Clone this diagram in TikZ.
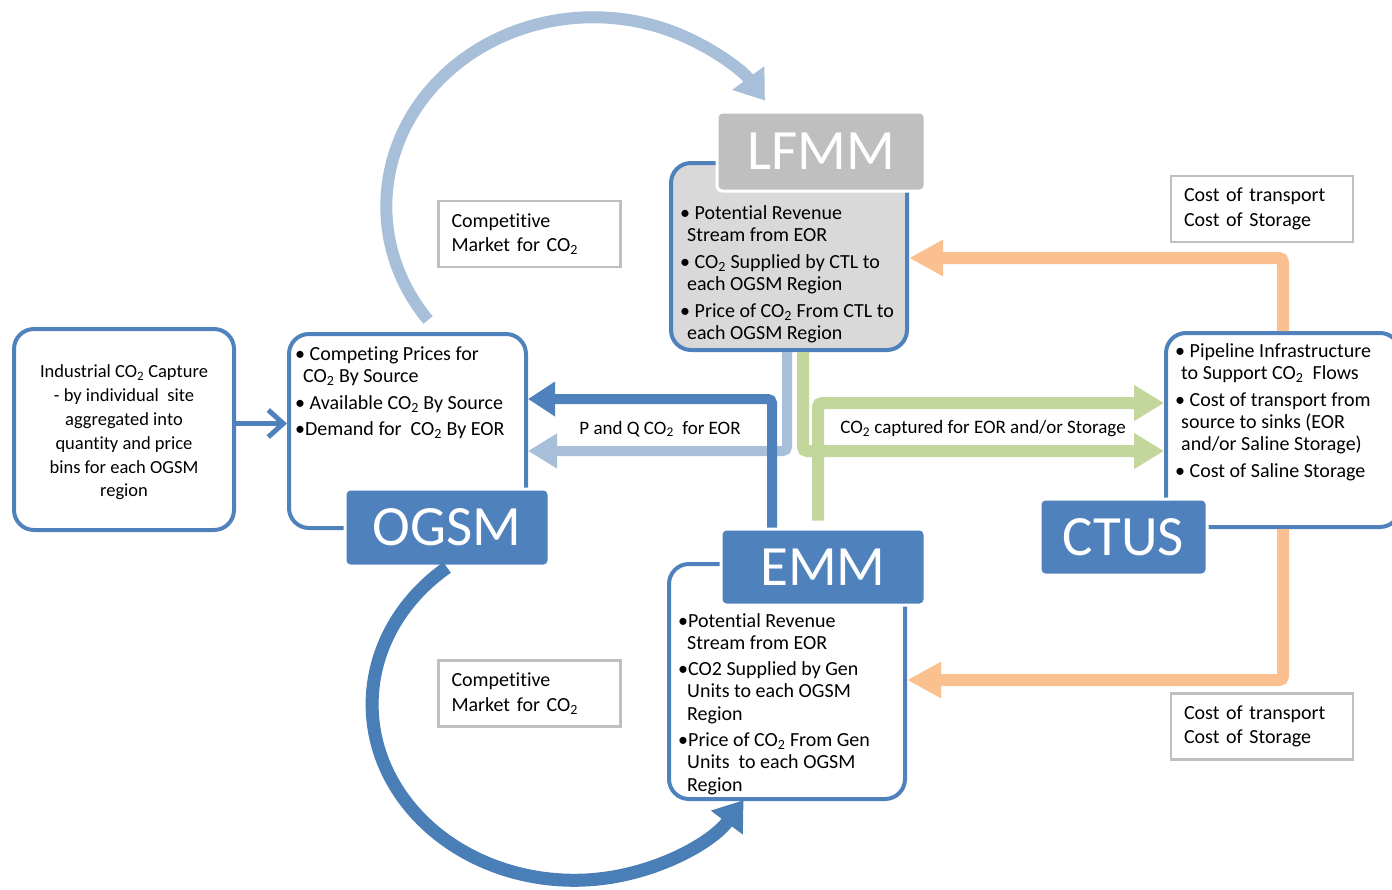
\documentclass[tikz,border=0pt]{standalone}
\usepackage{fontspec}
\setmainfont{Carlito}[Ligatures=NoCommon]
\usetikzlibrary{arrows.meta}
\definecolor{boxblue}{RGB}{79,129,189}
\definecolor{arcblue}{RGB}{74,126,183}
\definecolor{paleblue}{RGB}{167,191,217}
\definecolor{palegreen}{RGB}{195,214,155}
\definecolor{paleorange}{RGB}{250,192,144}
\definecolor{tagsilver}{RGB}{191,191,191}
\definecolor{panelgray}{RGB}{217,217,217}
\newcommand{\cotwo}{CO\textsubscript{2}}

\begin{document}
\begin{tikzpicture}[x=1pt,y=-1pt,
panel/.style={draw=boxblue,line width=4pt,rounded corners=20pt,inner sep=0pt},
tag/.style={fill=boxblue,draw=white,line width=3pt,rounded corners=5pt,inner sep=0pt,text=white,font=\fontsize{57}{60}\selectfont},
note/.style={draw=tagsilver,line width=2.5pt,inner xsep=13pt,inner ysep=0pt,text width=156pt,minimum height=66pt,align=left,font=\fontsize{20}{24.5}\selectfont},
items/.style={align=left,inner sep=0pt,anchor=north west,font=\fontsize{20}{22.3}\selectfont},
flow/.style={line width=#1,rounded corners=4pt}]
\useasboundingbox (0,0) rectangle (1392,889);

\node[panel,minimum width=220pt,minimum height=201pt] (indbox) at (124,429.5) {};
\node[align=center,font=\fontsize{18.5}{23.8}\selectfont] (indtext) at ([yshift=-3pt]indbox.center) {Industrial \cotwo{} Capture\\- by individual~~site\\aggregated into\\quantity and price\\bins for each OGSM\\region};

\node[panel,minimum width=237pt,minimum height=194pt] (ogsmbox) at (407.5,431) {};
\node[panel,fill=panelgray,minimum width=236pt,minimum height=187pt] (lfmmbox) at (789,256.5) {};
\node[panel,minimum width=236pt,minimum height=235pt] (emmbox) at (787,681.5) {};
\node[panel,minimum width=234pt,minimum height=194pt] (ctusbox) at (1283,430) {};

\node[tag,fill=tagsilver,minimum width=208pt,minimum height=79pt] (lfmm) at (821,151.5) {LFMM};
\node[tag,minimum width=204pt,minimum height=77pt] (ogsm) at (447,527.5) {OGSM};
\node[tag,minimum width=204pt,minimum height=76pt] (emm) at (823,567) {EMM};
\node[tag,minimum width=167pt,minimum height=76pt] (ctus) at (1123.5,537) {CTUS};

\node[items] (ogsmtext) at ([shift={(8,14.5)}]ogsmbox.north west) {\textbullet\ Competing Prices for\\
\hspace*{8pt}\cotwo{} By Source\\[4pt]
\textbullet\ Available \cotwo{} By Source\\[4pt]
\textbullet Demand for~~\cotwo{} By EOR};
\node[items] (lfmmtext) at ([shift={(11,44)}]lfmmbox.north west) {\textbullet\ Potential Revenue\\
\hspace*{7pt}Stream from EOR\\[4.5pt]
\textbullet\ \cotwo{} Supplied by CTL to\\
\hspace*{7pt}each OGSM Region\\[4.5pt]
\textbullet\ Price of \cotwo{} From CTL to\\
\hspace*{7pt}each OGSM Region};
\node[items] (emmtext) at ([shift={(11,51)}]emmbox.north west) {\textbullet Potential Revenue\\
\hspace*{9pt}Stream from EOR\\[4pt]
\textbullet CO2 Supplied by Gen\\
\hspace*{9pt}Units to each OGSM\\
\hspace*{9pt}Region\\[4pt]
\textbullet Price of \cotwo{} From Gen\\
\hspace*{9pt}Units~~to each OGSM\\
\hspace*{9pt}Region};
\node[items] (ctustext) at ([shift={(11,12)}]ctusbox.north west) {\textbullet\ Pipeline Infrastructure\\
\hspace*{6pt}to Support \cotwo~~Flows\\[4.5pt]
\textbullet\ Cost of transport from\\
\hspace*{6pt}source to sinks (EOR\\
\hspace*{6pt}and/or Saline Storage)\\[4pt]
\textbullet\ Cost of Saline Storage};

\node[note] (costtop) at (1262,209) {Cost of transport\\Cost of Storage};
\node[note] (costbottom) at (1262,726.5) {Cost of transport\\Cost of Storage};
\node[note] (markettop) at (529.5,234) {Competitive\\Market for \cotwo};
\node[note] (marketbottom) at (529.5,693.5) {Competitive\\Market for \cotwo};

\node[font=\fontsize{19}{22}\selectfont] (pqlabel) at (660,429) {P and Q \cotwo~~for EOR};
\node[font=\fontsize{19}{22}\selectfont] (capturelabel) at (983,429) {\cotwo{} captured for EOR and/or Storage};

\coordinate (pq) at (772,399);
\coordinate (lq) at (787,451);
\coordinate (ga) at (803,451);
\coordinate (gb) at (818,403);
\coordinate (ot) at (1283,258);
\coordinate (ob) at (1283,680);

\draw[line width=5pt,boxblue,-{Straight Barb[length=15pt,width=27pt]}] ([yshift=6pt]indbox.east) -- ([yshift=6pt]indbox.east -| ogsmbox.west);
\draw[flow=10pt,paleblue,-{Triangle[length=29pt,width=33pt]}] (lfmmbox.south -| lq) -- (lq) -- (lq -| ogsmbox.east);
\draw[flow=10pt,boxblue,-{Triangle[length=27pt,width=33pt]}] (emm.north -| pq) -- (pq) -- (pq -| ogsmbox.east);
\draw[flow=12pt,palegreen,-{Triangle[length=30pt,width=34pt]}] (lfmmbox.south -| ga) -- (ga) -- (ga -| ctusbox.west);
\draw[flow=12pt,palegreen,-{Triangle[length=30pt,width=34pt]}] ([yshift=7pt]emm.north -| gb) -- (gb) -- (gb -| ctusbox.west);
\draw[flow=12pt,paleorange,-{Triangle[length=34pt,width=34pt]}] (ctusbox.north) -- (ot) -- (ot -| lfmmbox.east);
\draw[flow=12pt,paleorange,-{Triangle[length=34pt,width=34pt]}] (ctusbox.south) -- (ob) -- (ob -| emmbox.east);

\draw[line width=12pt,paleblue,-{Triangle[length=28pt,width=38pt]}] ([shift={(141,-12)}]ogsmbox.north west) arc[start angle=143,end angle=326,x radius=207,y radius=189];
\draw[line width=13pt,arcblue,-{Triangle[length=28pt,width=38pt]}] (ogsm.south) arc[start angle=231,end angle=33,x radius=202,y radius=176];
\end{tikzpicture}
\end{document}
